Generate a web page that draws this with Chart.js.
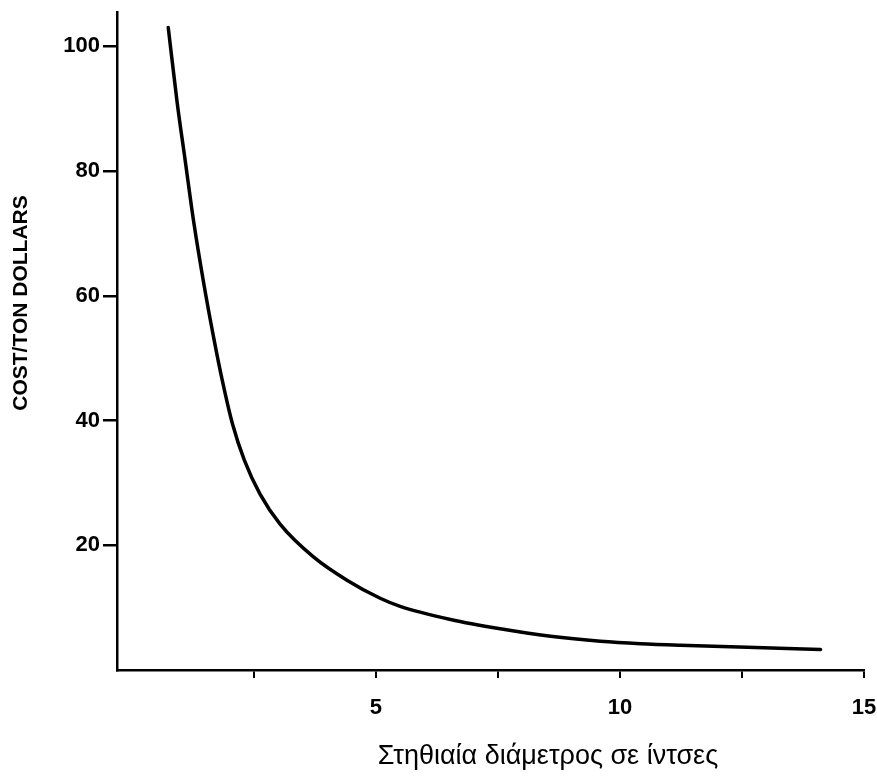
<!DOCTYPE html>
<html lang="el">
<head>
    <meta charset="UTF-8">
    <title>Cost per ton vs diameter</title>
    <script src="https://cdn.jsdelivr.net/npm/chart.js"></script>
    <style>
        html, body {
            margin: 0;
            padding: 0;
            background: #ffffff;
        }
        .chartBox {
            width: 877px;
            height: 776px;
        }
    </style>
</head>
<body>
<div class="chartBox">
    <canvas id="costChart"></canvas>
</div>

<script>
    // values
    const diameter = [0.75, 0.93, 1.10, 1.27, 1.47, 1.68, 1.86, 2.06, 2.31, 2.63, 3.04, 3.73, 4.41, 5.09, 5.50, 6.53, 7.55, 8.58, 9.60, 10.42, 11.24, 12.61, 14.11];
    const cost = [103.0, 91.1, 81.5, 71.9, 62.3, 53.3, 46.3, 39.6, 33.6, 28.2, 23.4, 18.1, 14.4, 11.5, 10.2, 8.1, 6.6, 5.4, 4.6, 4.2, 3.95, 3.65, 3.3];

    const xTicks = [2.5, 5, 7.5, 10, 12.5, 15];
    const yTicks = [20, 40, 60, 80, 100];

    const yTitle = 'COST/TON DOLLARS';
    const xTitle = 'Στηθιαία διάμετρος σε ίντσες';

    const points = diameter.map((d, i) => ({ x: d, y: cost[i] }));

    // axis titles sit off-centre in the original, so draw them by hand
    const axisTitles = {
        id: 'axisTitles',
        afterDraw(chart) {
            const ctx = chart.ctx;
            ctx.save();
            ctx.fillStyle = '#000';
            ctx.textAlign = 'center';
            ctx.textBaseline = 'middle';

            ctx.font = 'bold 21px "Liberation Sans", Arial, sans-serif';
            ctx.translate(21, 303);
            ctx.rotate(-Math.PI / 2);
            ctx.fillText(yTitle, 0, 0);
            ctx.setTransform(1, 0, 0, 1, 0, 0);

            ctx.font = '27px "Liberation Sans", Arial, sans-serif';
            ctx.fillText(xTitle, 548, 757);
            ctx.restore();
        }
    };

    const tickFont = { family: '"Liberation Sans", Arial, sans-serif', size: 22, weight: 'bold' };

    new Chart(document.getElementById('costChart'), {
        type: 'line',
        data: {
            datasets: [{
                data: points,
                borderColor: '#000',
                borderWidth: 3.5,
                pointRadius: 0,
                fill: false,
                cubicInterpolationMode: 'monotone',
                borderCapStyle: 'round'
            }]
        },
        options: {
            responsive: true,
            maintainAspectRatio: false,
            animation: false,
            layout: {
                padding: { left: 0, right: 13, top: 12, bottom: 0 }
            },
            plugins: {
                legend: { display: false },
                tooltip: { enabled: false }
            },
            scales: {
                x: {
                    type: 'linear',
                    min: -0.3,
                    max: 15,
                    afterBuildTicks: scale => {
                        scale.ticks = xTicks.map(v => ({ value: v }));
                    },
                    afterFit: scale => {
                        scale.height = 106;
                        scale.paddingLeft = 0;
                        scale.paddingRight = 0;
                    },
                    border: { display: true, color: '#000', width: 2.5 },
                    grid: {
                        drawOnChartArea: false,
                        drawTicks: true,
                        tickLength: 8,
                        color: '#000',
                        lineWidth: 2
                    },
                    ticks: {
                        color: '#000',
                        font: tickFont,
                        padding: 17,
                        maxRotation: 0,
                        autoSkip: false,
                        callback: v => (v % 5 === 0 ? v : '')
                    }
                },
                y: {
                    type: 'linear',
                    min: 0,
                    max: 105.5,
                    afterBuildTicks: scale => {
                        scale.ticks = yTicks.map(v => ({ value: v }));
                    },
                    afterFit: scale => {
                        scale.width = 117;
                        scale.paddingTop = 0;
                        scale.paddingBottom = 0;
                    },
                    border: { display: true, color: '#000', width: 2.5 },
                    grid: {
                        drawOnChartArea: false,
                        drawTicks: true,
                        tickLength: 14,
                        color: '#000',
                        lineWidth: 2.5
                    },
                    ticks: {
                        color: '#000',
                        font: tickFont,
                        padding: 3
                    }
                }
            }
        },
        plugins: [axisTitles]
    });
</script>
</body>
</html>
